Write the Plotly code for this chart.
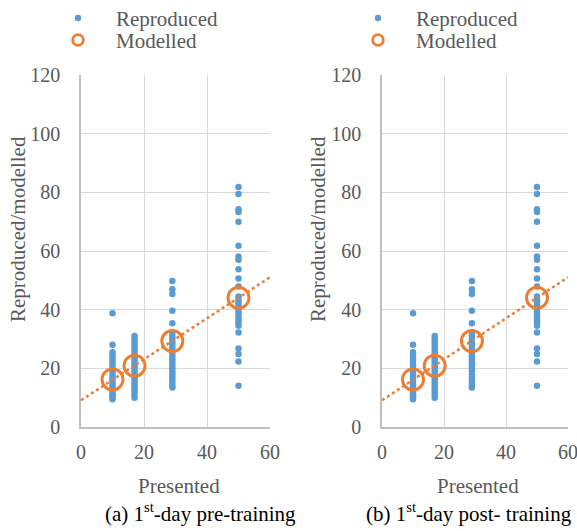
import numpy as np
import plotly.graph_objects as go

# ---------------- data ----------------
presented_levels = [10, 17, 29, 50]

pre_rep_10 = [38.8, 28.0, 25.5, 24.5, 23.5, 22.5, 21.5, 20.5, 19.5, 18.5, 17.5, 16.5,
              15.5, 14.5, 13.5, 12.5, 11.5, 11.0, 10.5, 10.0, 9.5]
pre_rep_17 = [31.0, 30.0, 29.0, 28.0, 27.0, 26.0, 25.0, 24.0, 23.0, 22.0, 21.0, 20.0,
              19.0, 18.0, 17.0, 16.0, 15.0, 14.0, 13.0, 12.0, 11.0, 10.0]
pre_rep_29 = [49.8, 47.0, 45.3, 39.6, 35.4, 32.2, 31.0, 30.0, 29.0, 28.0, 27.0, 26.0,
              25.0, 24.0, 23.0, 22.0, 21.0, 20.0, 19.0, 18.0, 17.0, 16.0, 15.0, 14.0, 13.5]
pre_rep_50 = [81.8, 79.4, 74.2, 73.3, 70.0, 61.8, 58.1, 57.0, 53.8, 50.6, 47.9, 44.5,
              43.5, 42.5, 41.5, 40.5, 39.5, 38.5, 37.5, 36.5, 35.5, 34.5, 32.2, 26.8,
              24.9, 22.3, 14.1]
pre_modelled = [16.2, 20.9, 29.3, 44.1]

post_rep_10 = [38.8, 28.0, 25.5, 24.5, 23.5, 22.5, 21.5, 20.5, 19.5, 18.5, 17.5, 16.5,
               15.5, 14.5, 13.5, 12.5, 11.5, 11.0, 10.5, 10.0, 9.5]
post_rep_17 = [31.0, 30.0, 29.0, 28.0, 27.0, 26.0, 25.0, 24.0, 23.0, 22.0, 21.0, 20.0,
               19.0, 18.0, 17.0, 16.0, 15.0, 14.0, 13.0, 12.0, 11.0, 10.0]
post_rep_29 = [49.8, 47.0, 45.3, 39.6, 35.4, 32.2, 31.0, 30.0, 29.0, 28.0, 27.0, 26.0,
               25.0, 24.0, 23.0, 22.0, 21.0, 20.0, 19.0, 18.0, 17.0, 16.0, 15.0, 14.0, 13.5]
post_rep_50 = [81.8, 79.4, 74.2, 73.3, 70.0, 61.8, 58.1, 57.0, 53.8, 50.6, 47.9, 44.5,
               43.5, 42.5, 41.5, 40.5, 39.5, 38.5, 37.5, 36.5, 35.5, 34.5, 32.2, 26.8,
               24.9, 22.3, 14.1]
post_modelled = [16.2, 20.9, 29.3, 44.1]

x_ticks = [0, 20, 40, 60]
y_ticks = [0, 20, 40, 60, 80, 100, 120]

captions = ["(a) 1<sup>st</sup>-day pre-training", "(b) 1<sup>st</sup>-day post- training"]

# ---------------- style ----------------
W, H = 577, 531
BLUE = "#5B9BD5"
ORANGE = "#ED7D31"
GRID = "#D9D9D9"
AXLINE = "#BFBFBF"
TXT = "#595959"
FONT = "'Liberation Serif', Tinos, 'Times New Roman', 'DejaVu Serif', serif"


def px_x(p):
    return p / W


def px_y(p):
    return 1 - p / H


fig = go.Figure()

panels = [
    ("x", "y", [pre_rep_10, pre_rep_17, pre_rep_29, pre_rep_50], pre_modelled),
    ("x2", "y2", [post_rep_10, post_rep_17, post_rep_29, post_rep_50], post_modelled),
]

xline = np.array([x_ticks[0], x_ticks[-1]], dtype=float)
for xa, ya, reps, modelled in panels:
    rx, ry = [], []
    for lvl, vals in zip(presented_levels, reps):
        rx += [lvl] * len(vals)
        ry += vals
    fig.add_trace(go.Scatter(x=rx, y=ry, mode="markers", xaxis=xa, yaxis=ya,
                             marker=dict(color=BLUE, size=6.5), showlegend=False,
                             name="Reproduced"))
    slope, icpt = np.polyfit(presented_levels, modelled, 1)
    fig.add_trace(go.Scatter(x=xline, y=icpt + slope * xline, mode="lines",
                             xaxis=xa, yaxis=ya,
                             line=dict(color=ORANGE, width=2.5, dash="dot"),
                             showlegend=False, hoverinfo="skip"))
    fig.add_trace(go.Scatter(x=presented_levels, y=modelled, mode="markers",
                             xaxis=xa, yaxis=ya,
                             marker=dict(symbol="circle-open", size=21, color=ORANGE,
                                         line=dict(width=3, color=ORANGE)),
                             showlegend=False, name="Modelled"))

ax_common = dict(showgrid=True, gridcolor=GRID, gridwidth=1.3, showline=True,
                 linecolor=AXLINE, linewidth=1.6, zeroline=False, ticks="outside",
                 tickcolor="rgba(0,0,0,0)", tickfont=dict(family=FONT, size=20, color=TXT),
                 fixedrange=True, automargin=False, ticklabeloverflow="allow")

ydom = [px_y(427), px_y(75)]
fig.update_layout(
    width=W, height=H, margin=dict(l=0, r=0, t=0, b=0, autoexpand=False),
    paper_bgcolor="white", plot_bgcolor="white", showlegend=False,
    font=dict(family=FONT, color=TXT),
    xaxis=dict(domain=[px_x(81), px_x(270)], range=[0, 60], tickvals=x_ticks,
               anchor="y", ticklen=6, **ax_common),
    yaxis=dict(domain=ydom, range=[0, 120], tickvals=y_ticks, anchor="x",
               ticklen=15, **ax_common),
    xaxis2=dict(domain=[px_x(382), px_x(568)], range=[0, 60], tickvals=x_ticks,
                anchor="y2", ticklen=6, **ax_common),
    yaxis2=dict(domain=ydom, range=[0, 120], tickvals=y_ticks, anchor="x2",
                ticklen=15, **ax_common),
)

annots = []
shapes = []
for off, (x0, x1), cap, capx in [(0, (81, 270), captions[0], 200),
                                  (300, (382, 568), captions[1], 469)]:
    # legend
    shapes.append(dict(type="circle", xref="paper", yref="paper",
                       x0=px_x(78 + off - 3.2), x1=px_x(78 + off + 3.2),
                       y0=px_y(18 + 3.2), y1=px_y(18 - 3.2),
                       fillcolor=BLUE, line=dict(width=0)))
    shapes.append(dict(type="circle", xref="paper", yref="paper",
                       x0=px_x(78 + off - 5.3), x1=px_x(78 + off + 5.3),
                       y0=px_y(40 + 5.3), y1=px_y(40 - 5.3),
                       fillcolor="rgba(0,0,0,0)", line=dict(width=2.8, color=ORANGE)))
    for txt, yy in [("Reproduced", 18.5), ("Modelled", 41)]:
        annots.append(dict(text=txt, xref="paper", yref="paper", x=px_x(114 + off),
                           y=px_y(yy), xanchor="left", yanchor="middle", showarrow=False,
                           font=dict(family=FONT, size=21, color=TXT)))
    # axis titles
    annots.append(dict(text="Presented", xref="paper", yref="paper",
                       x=px_x((x0 + x1) / 2 + 3), y=px_y(486), xanchor="center",
                       yanchor="middle", showarrow=False,
                       font=dict(family=FONT, size=21, color=TXT)))
    annots.append(dict(text="Reproduced/modelled", xref="paper", yref="paper",
                       x=px_x(18 + off), y=px_y(229), xanchor="center",
                       yanchor="middle", textangle=-90, showarrow=False,
                       font=dict(family=FONT, size=21, color=TXT)))
    annots.append(dict(text=cap, xref="paper", yref="paper", x=px_x(capx),
                       y=px_y(512), xanchor="center", yanchor="middle",
                       showarrow=False, font=dict(family=FONT, size=21, color="#000000")))

fig.update_layout(annotations=annots, shapes=shapes)
fig.write_html("out.html")
